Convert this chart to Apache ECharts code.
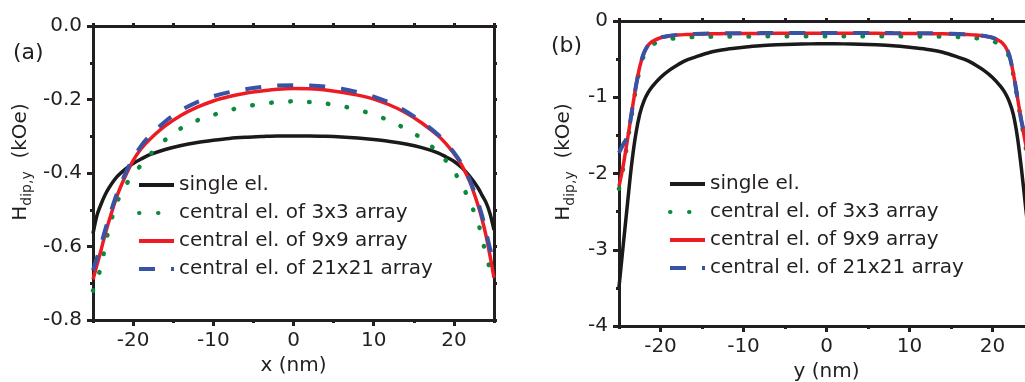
<!DOCTYPE html>
<html>
<head>
<meta charset="utf-8">
<script src="https://cdn.jsdelivr.net/npm/echarts@6/dist/echarts.min.js"></script>
<style>
  html, body { margin: 0; padding: 0; background: #fff; }
  #main { width: 1025px; height: 382px; }
</style>
</head>
<body>
<div id="main"></div>
<script>
// panel (a): H_dip,y along x
var xA = [-25, -24.5, -24, -23.5, -23, -22, -21, -20, -19, -18, -16, -14, -12, -10, -8, -6, -4, -2, 0,
  2, 4, 6, 8, 10, 12, 14, 16, 18, 19, 20, 21, 22, 23, 23.5, 24, 24.5, 25];
var singleA = [-0.565, -0.515, -0.485, -0.46, -0.44, -0.41, -0.39, -0.374, -0.362, -0.351, -0.336, -0.325, -0.317, -0.311, -0.306, -0.303, -0.301, -0.299, -0.299,
  -0.299, -0.300, -0.302, -0.305, -0.309, -0.314, -0.321, -0.331, -0.345, -0.356, -0.368, -0.386, -0.41, -0.44, -0.46, -0.48, -0.51, -0.555];
var arr3A = [-0.72, -0.69, -0.655, -0.6, -0.55, -0.48, -0.436, -0.405, -0.378, -0.352, -0.31, -0.278, -0.257, -0.242, -0.229, -0.219, -0.212, -0.207, -0.205,
  -0.207, -0.211, -0.218, -0.228, -0.241, -0.258, -0.28, -0.306, -0.343, -0.366, -0.395, -0.433, -0.478, -0.535, -0.575, -0.625, -0.66, -0.695];
var arr9A = [-0.69, -0.65, -0.61, -0.568, -0.53, -0.462, -0.41, -0.366, -0.334, -0.31, -0.272, -0.243, -0.221, -0.204, -0.192, -0.183, -0.177, -0.172, -0.170,
  -0.171, -0.174, -0.180, -0.188, -0.199, -0.215, -0.236, -0.264, -0.298, -0.32, -0.347, -0.38, -0.425, -0.487, -0.525, -0.57, -0.625, -0.685];
var arr21A = [-0.665, -0.63, -0.595, -0.556, -0.52, -0.455, -0.403, -0.36, -0.326, -0.3, -0.26, -0.229, -0.207, -0.191, -0.18, -0.172, -0.166, -0.162, -0.161,
  -0.162, -0.165, -0.171, -0.18, -0.192, -0.209, -0.232, -0.261, -0.295, -0.318, -0.344, -0.376, -0.42, -0.48, -0.515, -0.56, -0.605, -0.645];

// panel (b): H_dip,y along y
var xB = [-25, -24.5, -24, -23.5, -23, -22.5, -22, -21.5, -21, -20, -19, -18, -17, -16, -14, -12, -10, -8, -6, -4, -2, 0,
  2, 4, 6, 8, 10, 12, 14, 16, 17, 18, 19, 20, 21, 21.5, 22, 22.5, 23, 23.5, 24, 24.5, 25];
var singleB = [-3.49, -2.95, -2.42, -1.9, -1.5, -1.22, -1.05, -0.94, -0.86, -0.74, -0.65, -0.58, -0.52, -0.48, -0.41, -0.37, -0.345, -0.325, -0.313, -0.305, -0.3, -0.298,
  -0.3, -0.305, -0.313, -0.325, -0.345, -0.37, -0.41, -0.48, -0.52, -0.58, -0.65, -0.74, -0.86, -0.94, -1.05, -1.22, -1.52, -1.95, -2.45, -2.95, -3.5];
var arr3B = [-2.2, -1.93, -1.6, -1.25, -0.91, -0.63, -0.45, -0.36, -0.31, -0.265, -0.238, -0.224, -0.215, -0.21, -0.205, -0.203, -0.202, -0.201, -0.2, -0.2, -0.2, -0.2,
  -0.2, -0.2, -0.2, -0.201, -0.202, -0.203, -0.205, -0.21, -0.215, -0.224, -0.238, -0.265, -0.31, -0.37, -0.47, -0.7, -1.02, -1.34, -1.65, -1.95, -2.2];
var arr9B = [-2.17, -1.9, -1.57, -1.22, -0.88, -0.6, -0.42, -0.32, -0.27, -0.22, -0.198, -0.185, -0.178, -0.173, -0.168, -0.165, -0.164, -0.163, -0.162, -0.162, -0.162, -0.162,
  -0.162, -0.162, -0.162, -0.163, -0.164, -0.165, -0.168, -0.173, -0.178, -0.185, -0.198, -0.22, -0.27, -0.33, -0.44, -0.68, -1.0, -1.32, -1.62, -1.9, -2.17];
var arr21B = [-1.73, -1.62, -1.52, -1.22, -0.88, -0.6, -0.42, -0.32, -0.27, -0.218, -0.195, -0.182, -0.174, -0.169, -0.164, -0.161, -0.16, -0.159, -0.158, -0.158, -0.158, -0.158,
  -0.158, -0.158, -0.158, -0.159, -0.16, -0.161, -0.164, -0.169, -0.174, -0.182, -0.195, -0.218, -0.27, -0.33, -0.44, -0.68, -1.0, -1.32, -1.52, -1.62, -1.73];

var names = ['single el.', 'central el. of 3x3 array', 'central el. of 9x9 array', 'central el. of 21x21 array'];
var colors = ['#1a1a1a', '#0b8a3e', '#ed1c24', '#3953a4'];

var FONT = 'DejaVu Sans';
var INK = '#231f20';

function pairs(xs, ys) {
  return xs.map(function (x, i) { return [x, ys[i]]; });
}

function mkSeries(i, data, xi, yi) {
  var ls = { color: colors[i], width: 3.5 };
  if (i === 1) { ls.type = [0.5, 18.5]; ls.cap = 'round'; ls.width = 4.5; }
  if (i === 3) { ls.type = [16, 16]; ls.width = 4; }
  return {
    name: names[i], type: 'line', xAxisIndex: xi, yAxisIndex: yi,
    data: data, symbol: 'none', showSymbol: false, smooth: 0.3,
    color: colors[i], lineStyle: ls, clip: true
  };
}

function mainX(gi, gap, nameText) {
  return {
    type: 'value', gridIndex: gi, position: 'bottom', min: -25, max: 25, interval: 5,
    name: nameText, nameLocation: 'middle', nameGap: gap,
    nameTextStyle: { fontFamily: FONT, fontSize: 20, color: INK, verticalAlign: 'middle' },
    axisLine: { onZero: false, lineStyle: { color: INK, width: 3 } },
    axisTick: { customValues: [-20, -10, 0, 10, 20], length: 6, lineStyle: { color: INK, width: 3 } },
    axisLabel: { customValues: [-20, -10, 0, 10, 20], margin: 11, fontFamily: FONT, fontSize: 20, color: INK },
    splitLine: { show: false }
  };
}
function minorX(gi) {
  return {
    type: 'value', gridIndex: gi, position: 'bottom', min: -25, max: 25, interval: 5,
    axisLine: { show: false, onZero: false },
    axisTick: { customValues: [-25, -15, -5, 5, 15, 25], length: 3, lineStyle: { color: INK, width: 3 } },
    axisLabel: { show: false }, splitLine: { show: false }
  };
}
function frameX(gi) {
  return {
    type: 'value', gridIndex: gi, position: 'top', min: -25, max: 25, interval: 5,
    axisLine: { onZero: false, lineStyle: { color: INK, width: 3 } },
    axisTick: { length: 3, lineStyle: { color: INK, width: 3 } },
    axisLabel: { show: false }, splitLine: { show: false }
  };
}

var legendBase = {
  orient: 'vertical', padding: 0, itemGap: 8,
  itemWidth: 35, itemHeight: 12, data: names, selectedMode: false,
  itemStyle: { opacity: 0 },
  lineStyle: { width: 4 },
  textStyle: { fontFamily: FONT, fontSize: 20, color: INK, lineHeight: 20 }
};

var myChart = echarts.init(document.getElementById('main'));
var option = {
  animation: false,
  backgroundColor: '#fff',
  grid: [
    { left: 93, top: 26, width: 401, height: 294, outerBoundsMode: 'none' },
    { left: 619, top: 21, width: 415, height: 305, outerBoundsMode: 'none' }
  ],
  xAxis: [
    mainX(0, 43, 'x (nm)'), minorX(0), frameX(0),
    mainX(1, 42, 'y (nm)'), minorX(1), frameX(1)
  ],
  yAxis: [
    {
      type: 'value', gridIndex: 0, position: 'left', min: -0.8, max: 0, interval: 0.2,
      axisLine: { onZero: false, lineStyle: { color: INK, width: 3 } },
      axisTick: { length: 6, lineStyle: { color: INK, width: 3 } },
      minorTick: { show: true, splitNumber: 2, length: 3, lineStyle: { color: INK, width: 3 } },
      axisLabel: { margin: 11, fontFamily: FONT, fontSize: 20, color: INK, formatter: function (v) { return v.toFixed(1); } },
      splitLine: { show: false }
    },
    {
      type: 'value', gridIndex: 0, position: 'right', min: -0.8, max: 0, interval: 0.1,
      axisLine: { onZero: false, lineStyle: { color: INK, width: 3 } },
      axisTick: { length: 3, lineStyle: { color: INK, width: 3 } },
      axisLabel: { show: false }, splitLine: { show: false }
    },
    {
      type: 'value', gridIndex: 1, position: 'left', min: -4, max: 0, interval: 1,
      axisLine: { onZero: false, lineStyle: { color: INK, width: 3 } },
      axisTick: { length: 6, lineStyle: { color: INK, width: 3 } },
      minorTick: { show: true, splitNumber: 2, length: 3, lineStyle: { color: INK, width: 3 } },
      axisLabel: { margin: 11, fontFamily: FONT, fontSize: 20, color: INK, formatter: function (v) { return String(Math.round(v)); } },
      splitLine: { show: false }
    },
    {
      type: 'value', gridIndex: 1, position: 'right', min: -4, max: 0, interval: 0.5,
      axisLine: { onZero: false, lineStyle: { color: INK, width: 3 } },
      axisTick: { length: 3, lineStyle: { color: INK, width: 3 } },
      axisLabel: { show: false }, splitLine: { show: false }
    }
  ],
  legend: [
    Object.assign({ left: 137, top: 175 }, legendBase),
    Object.assign({ left: 668, top: 174 }, legendBase)
  ],
  graphic: [
    { type: 'text', left: 13, top: 42, style: { text: '(a)', fontFamily: FONT, fontSize: 22, fill: INK } },
    { type: 'text', left: 551, top: 35, style: { text: '(b)', fontFamily: FONT, fontSize: 22, fill: INK } },
    {
      type: 'text', x: 21, y: 162, rotation: Math.PI / 2,
      style: {
        text: '{h|H}{s|dip,y}{h|  (kOe)}', align: 'center', verticalAlign: 'middle', fill: INK,
        rich: {
          h: { fontFamily: FONT, fontSize: 20, lineHeight: 20, fill: INK },
          s: { fontFamily: FONT, fontSize: 14, lineHeight: 14, padding: [12, 0, 0, 0], fill: INK }
        }
      }
    },
    {
      type: 'text', x: 564, y: 162, rotation: Math.PI / 2,
      style: {
        text: '{h|H}{s|dip,y}{h|  (kOe)}', align: 'center', verticalAlign: 'middle', fill: INK,
        rich: {
          h: { fontFamily: FONT, fontSize: 20, lineHeight: 20, fill: INK },
          s: { fontFamily: FONT, fontSize: 14, lineHeight: 14, padding: [12, 0, 0, 0], fill: INK }
        }
      }
    }
  ],
  series: [
    mkSeries(0, pairs(xA, singleA), 0, 0),
    mkSeries(1, pairs(xA, arr3A), 0, 0),
    mkSeries(2, pairs(xA, arr9A), 0, 0),
    mkSeries(3, pairs(xA, arr21A), 0, 0),
    mkSeries(0, pairs(xB, singleB), 3, 2),
    mkSeries(1, pairs(xB, arr3B), 3, 2),
    mkSeries(2, pairs(xB, arr9B), 3, 2),
    mkSeries(3, pairs(xB, arr21B), 3, 2)
  ]
};
myChart.setOption(option);
</script>
</body>
</html>
